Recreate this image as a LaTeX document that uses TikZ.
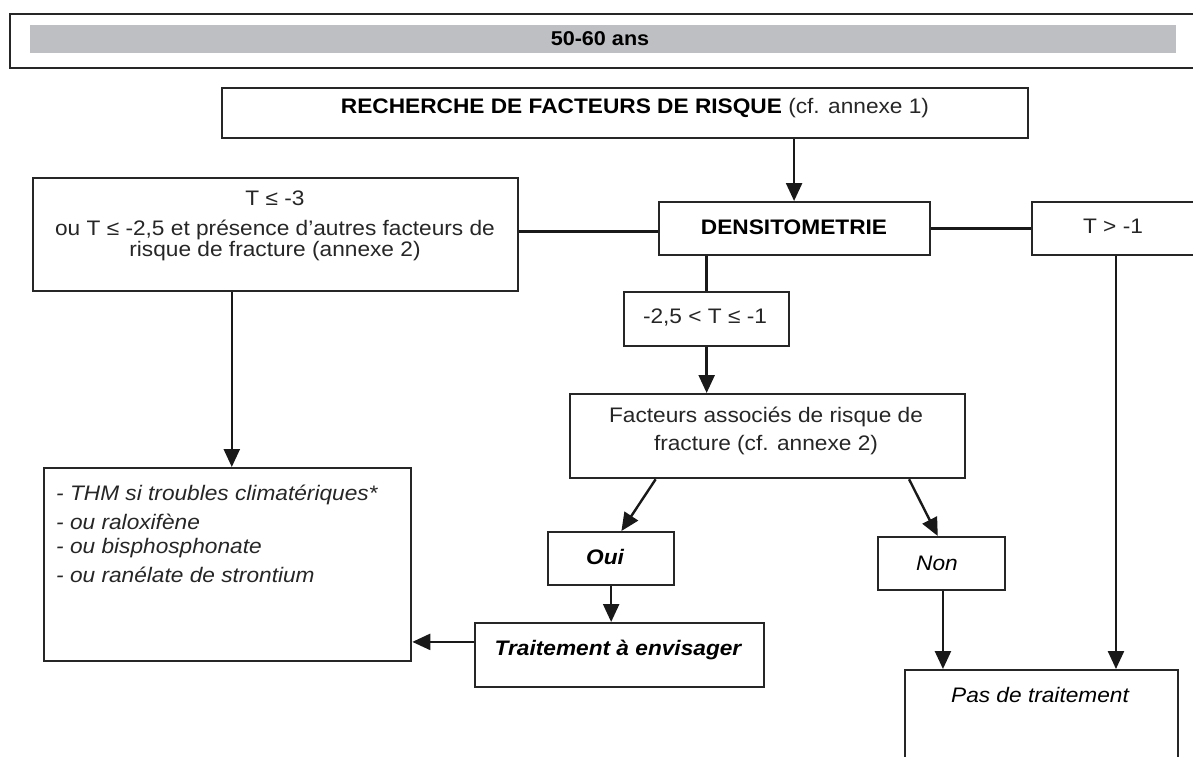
\documentclass[tikz,border=0pt]{standalone}
\usepackage{fontspec}
\setmainfont[FakeStretch=1.08]{Liberation Sans}
\usetikzlibrary{arrows.meta,calc}
\begin{document}
\begin{tikzpicture}[x=1pt,y=-1pt,
  box/.style={draw=black!85, line width=2.3pt, inner sep=0pt, anchor=north west},
  conn/.style={draw=black!90, line width=2.4pt},
  arr/.style={conn, -{Triangle[length=18pt,width=16pt]}},
  txt/.style={inner sep=0pt, text=black!85, font=\fontsize{21}{22}\selectfont},
  txtb/.style={txt, text=black, font=\fontsize{21}{22}\selectfont\bfseries},
  txti/.style={txt, font=\fontsize{21}{22}\selectfont\itshape},
  txtbi/.style={txt, text=black, font=\fontsize{21}{22}\selectfont\bfseries\itshape}]
\useasboundingbox (0,0) rectangle (1193,756);
\clip (0,0) rectangle (1193,756);
\fill[white] (0,0) rectangle (1193,756);
% title
\node[box, minimum width=1200pt, minimum height=54pt] (top) at (9,13) {};
\node[fill={rgb,255:red,190;green,191;blue,194}, inner sep=0pt, anchor=north west, minimum width=1146pt, minimum height=28pt] (bar) at (30,25) {};
\node[txtb, font=\fontsize{20}{22}\selectfont\bfseries] (bart) at (600,39) {50-60 ans};
% boxes
\node[box, minimum width=806pt, minimum height=50pt] (rech) at (221,87) {};
\node[box, minimum width=271pt, minimum height=53pt] (dens) at (658,201) {};
\node[box, minimum width=485pt, minimum height=113pt] (tlow) at (32,177) {};
\node[box, minimum width=200pt, minimum height=53pt] (tgt) at (1031,201) {};
\node[box, minimum width=165pt, minimum height=54pt] (mid) at (623,291) {};
\node[box, minimum width=395pt, minimum height=84pt] (fact) at (569,393) {};
\node[box, minimum width=126pt, minimum height=53pt] (oui) at (547,531) {};
\node[box, minimum width=127pt, minimum height=53pt] (non) at (877,536) {};
\node[box, minimum width=289pt, minimum height=64pt] (trait) at (474,622) {};
\node[box, minimum width=367pt, minimum height=193pt] (treat) at (43,467) {};
\node[box, minimum width=273pt, minimum height=100pt] (pas) at (904,669) {};
% texts
\node[txt] (rect) at (635,108) {\bfseries\color{black}RECHERCHE DE FACTEURS DE RISQUE\mdseries\color{black!85}{} (cf. annexe 1)};
\node[txtb] (denst) at (794,227) {DENSITOMETRIE};
\node[txt] (tl1) at (275,198) {T ≤ -3};
\node[txt] (tl2) at (275,230) {ou T ≤ -2,5 et présence d'autres facteurs de};
\node[txt] (tl3) at (275,251) {risque de fracture (annexe 2)};
\node[txt] (tgtt) at (1113,226) {T > -1};
\node[txt] (midt) at (705,318) {-2,5 < T ≤ -1};
\node[txt] (fa1) at (766,417) {Facteurs associés de risque de};
\node[txt] (fa2) at (766,445) {fracture (cf. annexe 2)};
\node[txtbi] (ouit) at (605,557) {Oui};
\node[txti, text=black] (nont) at (937,563) {Non};
\node[txtbi] (traitt) at (618,650) {Traitement à envisager};
\node[txti, text=black] (past) at (1040,695) {Pas de traitement};
\node[txti, anchor=west] (l1) at (56,495) {- THM si troubles climatériques*};
\node[txti, anchor=west] (l2) at (56,522) {- ou raloxifène};
\node[txti, anchor=west] (l3) at (56,548) {- ou bisphosphonate};
\node[txti, anchor=west] (l4) at (56,575) {- ou ranélate de strontium};
% connectors
\draw[arr] ($(rech.south west)!0.709!(rech.south east)$) coordinate (r1) -- (r1 |- dens.north);
\draw[conn] ($(dens.north west)!0.55!(dens.south west)$) coordinate (d1) -- (d1 -| tlow.east);
\draw[conn] (dens.east) -- (tgt.west);
\draw[conn] (mid.north |- dens.south) -- (mid.north);
\draw[arr] (mid.south) -- (mid.south |- fact.north);
\draw[arr] ($(fact.south west)!0.218!(fact.south east)$) -- ($(oui.north west)!0.58!(oui.north east)$);
\draw[arr] ($(fact.south west)!0.856!(fact.south east)$) -- ($(non.north west)!0.47!(non.north east)$);
\draw[arr] (oui.south) -- (oui.south |- trait.north);
\draw[arr] ($(trait.north west)!0.3!(trait.south west)$) coordinate (tr1) -- (tr1 -| treat.east);
\draw[arr] ($(tlow.south west)!0.41!(tlow.south east)$) coordinate (t1) -- (t1 |- treat.north);
\draw[arr] ($(non.south west)!0.51!(non.south east)$) coordinate (n1) -- (n1 |- pas.north);
\draw[arr] ($(tgt.south west)!0.42!(tgt.south east)$) coordinate (g1) -- (g1 |- pas.north);
\end{tikzpicture}
\end{document}
